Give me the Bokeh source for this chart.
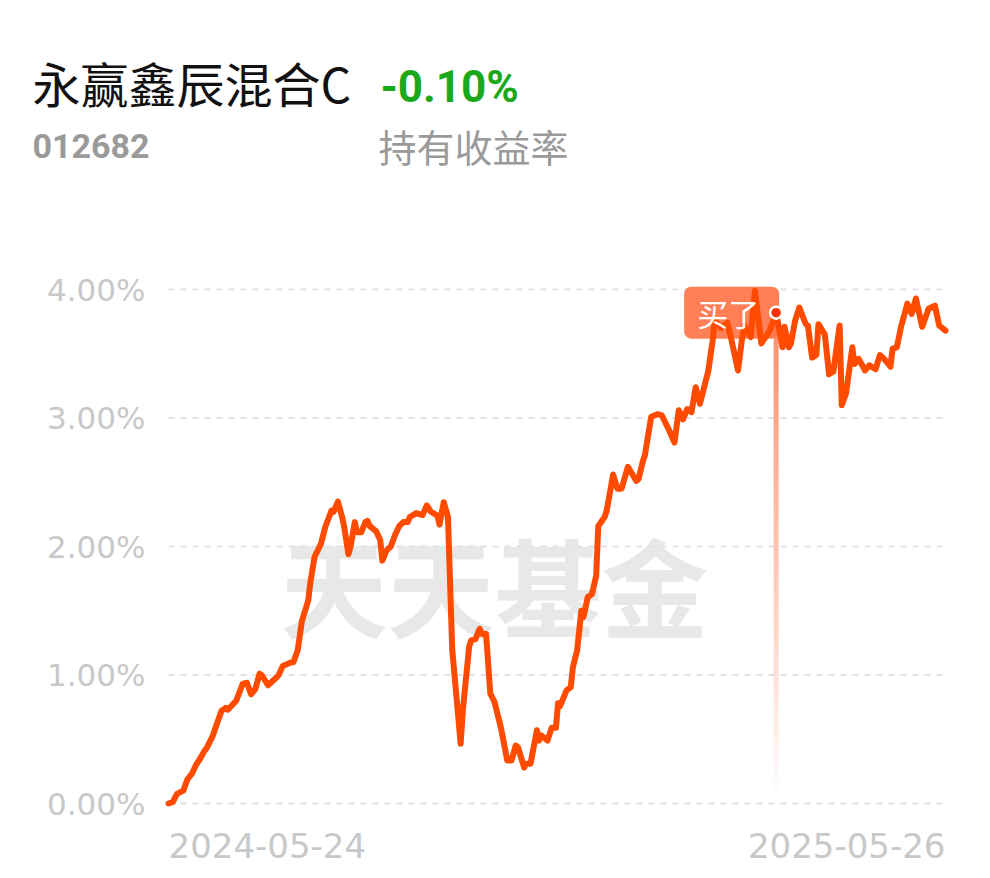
from bokeh.plotting import figure
from bokeh.models import Range1d
from bokeh.core.properties import value
from bokeh.embed import file_html
from bokeh.resources import INLINE

# ---------------- data ----------------
fund_name = "永赢鑫辰混合C"
fund_code = "012682"
hold_return = "-0.10%"
hold_label = "持有收益率"
watermark = "天天基金"
buy_label = "买了"
x_labels = ["2024-05-24", "2025-05-26"]
y_ticks = [0, 1, 2, 3, 4]

# days since 2024-05-24
days = [0, 2, 4, 7, 9, 11, 13, 15, 17, 18, 21, 22, 25, 27, 28, 32, 35, 37, 39, 41,
        43, 44, 47, 51, 52, 54, 58, 59, 61, 63, 66, 67, 69, 72, 74, 77, 78, 80, 82, 83,
        85, 86, 88, 89, 91, 93, 94, 95, 98, 100, 101, 103, 105, 107, 109, 111, 113, 114, 117, 120,
        122, 124, 127, 128, 130, 132, 134, 138, 139, 142, 143, 145, 147, 148, 150, 152, 154, 157, 160, 162,
        164, 165, 168, 169, 171, 174, 175, 176, 179, 181, 183, 184, 185, 188, 190, 191, 193, 195, 196, 198,
        200, 202, 203, 206, 207, 210, 212, 214, 217, 221, 222, 224, 225, 228, 231, 233, 236, 239, 241, 243,
        245, 247, 249, 251, 253, 255, 257, 258, 261, 264, 266, 269, 271, 272, 275, 277, 280, 282, 284, 287,
        290, 291, 293, 294, 296, 298, 301, 302, 304, 306, 307, 310, 312, 314, 317, 318, 320, 323, 324, 326,
        329, 331, 334, 336, 338, 341, 342, 344, 346, 349, 351, 353, 356, 359, 362, 364, 367]
# holding return, %
returns = [0.00, 0.01, 0.075, 0.10, 0.19, 0.23, 0.30, 0.35, 0.41, 0.43, 0.53, 0.58, 0.72, 0.745, 0.73, 0.80, 0.93, 0.94, 0.85, 0.89,
           1.01, 1.00, 0.92, 0.98, 1.00, 1.07, 1.10, 1.10, 1.19, 1.42, 1.58, 1.72, 1.92, 2.02, 2.15, 2.28, 2.27, 2.35, 2.23, 2.15,
           1.94, 2.00, 2.19, 2.11, 2.11, 2.19, 2.20, 2.16, 2.12, 2.05, 1.89, 1.97, 2.00, 2.09, 2.16, 2.19, 2.19, 2.23, 2.26, 2.245,
           2.32, 2.27, 2.24, 2.17, 2.345, 2.23, 1.20, 0.465, 0.72, 1.22, 1.27, 1.28, 1.36, 1.32, 1.32, 0.855, 0.79, 0.59, 0.335, 0.335,
           0.45, 0.44, 0.28, 0.31, 0.31, 0.57, 0.49, 0.53, 0.49, 0.59, 0.59, 0.78, 0.76, 0.88, 0.905, 1.06, 1.19, 1.50, 1.45, 1.605,
           1.63, 1.77, 2.16, 2.23, 2.28, 2.56, 2.45, 2.45, 2.62, 2.51, 2.525, 2.66, 2.71, 3.01, 3.03, 3.02, 2.92, 2.81, 3.06, 2.99,
           3.07, 3.045, 3.24, 3.11, 3.24, 3.37, 3.60, 3.76, 3.70, 3.74, 3.60, 3.37, 3.63, 3.72, 3.63, 3.99, 3.58, 3.63, 3.68, 3.82,
           3.55, 3.71, 3.55, 3.58, 3.76, 3.86, 3.73, 3.72, 3.47, 3.49, 3.73, 3.65, 3.34, 3.36, 3.72, 3.10, 3.19, 3.55, 3.42, 3.46,
           3.37, 3.41, 3.38, 3.49, 3.46, 3.40, 3.54, 3.55, 3.71, 3.89, 3.81, 3.93, 3.71, 3.85, 3.875, 3.72, 3.68]
buy_day = [287]
buy_return = [3.82]

# ---------------- geometry (pixels on the canvas) ----------------
W, H = 974, 874
X0_PX, X1_PX = 168, 945      # first / last day
Y0_PX, Y4_PX = 803, 289      # 0% / 4%

kx = (X1_PX - X0_PX) / (days[-1] - days[0])
ky = (Y0_PX - Y4_PX) / (y_ticks[-1] - y_ticks[0])


def dx(px):
    return px / kx


def dy(px):
    return px / ky


def fx(px):  # canvas pixel x -> data x
    return days[0] + dx(px - X0_PX)


def fy(py):  # canvas pixel y -> data y
    return y_ticks[0] + dy(Y0_PX - py)


p = figure(width=W, height=H, output_backend="svg", toolbar_location=None,
           x_range=Range1d(fx(0), fx(W)), y_range=Range1d(fy(H), fy(0)),
           min_border=0, outline_line_color=None)
p.axis.visible = False
p.grid.visible = False


def txt(x, y, s, size, color, font="Noto Sans CJK SC", style="normal", align="left"):
    p.text(x=x, y=y, text=s, text_font=value(font), text_font_size=size,
           text_font_style=style, text_color=color, text_align=align, text_baseline="middle")


# ---------------- header ----------------
txt([fx(32)], [fy(81)], [fund_name], "48px", "#111111")
txt([fx(380)], [fy(86)], [hold_return], "44px", "#1ba81b", font="Roboto", style="bold")
txt([fx(32)], [fy(145)], [fund_code], "34px", "#9a9a9a", font="Roboto", style="bold")
txt([fx(378)], [fy(145)], [hold_label], "38px", "#9a9a9a")

# ---------------- chart ----------------
# watermark
txt([fx(494)], [fy(583)], [watermark], "107px", "#e8e8e8", style="bold", align="center")

# dashed grid lines across the data extent
p.segment(x0=[days[0]] * len(y_ticks), x1=[days[-1]] * len(y_ticks), y0=y_ticks, y1=y_ticks,
          line_color="#e2e2e2", line_width=2, line_dash="6 6")

# y tick labels
txt([fx(145)] * len(y_ticks), y_ticks, ["%.2f%%" % t for t in y_ticks], "31px", "#c8c8c8",
    font="DejaVu Sans", align="right")

# gradient vertical marker line under the buy point
n = 60
top = buy_return[0]
bottom = y_ticks[0] + dy(8)
ys = [top - (top - bottom) * i / n for i in range(n + 1)]
p.segment(x0=[buy_day[0]] * n, x1=[buy_day[0]] * n, y0=ys[:-1], y1=ys[1:],
          line_color="#ff7f55", line_width=5,
          line_alpha=[0.9 * (1 - i / n) for i in range(n)])

# badge
p.quad(left=[buy_day[0] - dx(92)], right=[buy_day[0] + dx(3)],
       top=[buy_return[0] + dy(26)], bottom=[buy_return[0] - dy(26)],
       fill_color="#ff7448", fill_alpha=0.92, line_color=None, border_radius=7)

# main line
p.line(days, returns, line_color="#ff4b00", line_width=6,
       line_join="round", line_cap="round")

# badge text + dot
txt([buy_day[0] - dx(48)], buy_return, [buy_label], "31px", "#ffffff", align="center")
p.scatter(buy_day, buy_return, size=12, fill_color="#f5300a", line_color="#ffffff", line_width=2.5)

# x labels
txt([days[0]], [fy(845)], [x_labels[0]], "34px", "#c8c8c8", font="DejaVu Sans", align="left")
txt([days[-1]], [fy(845)], [x_labels[1]], "34px", "#c8c8c8", font="DejaVu Sans", align="right")

open("out.html", "w").write(file_html(p, INLINE))
